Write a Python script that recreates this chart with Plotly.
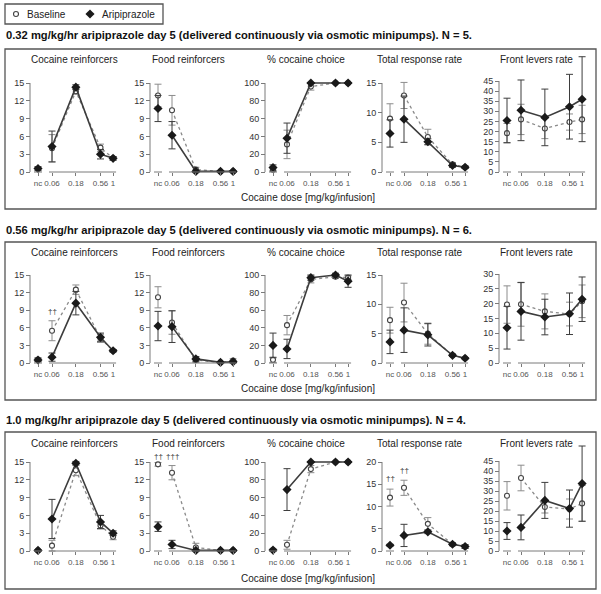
import math
import plotly.graph_objects as go

W, H = 601, 594
FONT = "Liberation Sans, Arial, Helvetica, sans-serif"

def fx(px):
    return px / W

def fy(py):
    return 1 - py / H

# ---------------- data ----------------
DOSE_LABELS = ["nc", "0.06", "0.18", "0.56", "1"]
DOSE_VALUES = [0.06, 0.18, 0.56, 1.0]

PANEL_TITLES = ["Cocaine reinforcers", "Food reinforcers", "% cocaine choice",
                "Total response rate", "Front levers rate"]
ROW_HEADINGS = [
    "0.32 mg/kg/hr aripiprazole day 5 (delivered continuously via osmotic minipumps). N = 5.",
    "0.56 mg/kg/hr aripiprazole day 5 (delivered continuously via osmotic minipumps). N = 6.",
    "1.0 mg/kg/hr aripiprazole day 5 (delivered continuously via osmotic minipumps). N = 4.",
]
X_LABEL = "Cocaine dose [mg/kg/infusion]"
SERIES = ["Baseline", "Aripiprazole"]

Y_TOPS = [[15, 15, 100, 15, 45], [15, 15, 100, 15, 30], [15, 15, 100, 20, 45]]
Y_STEPS = [[3, 3, 20, 5, 5], [3, 3, 20, 5, 5], [3, 3, 20, 5, 5]]

# Row 1: 0.32 mg/kg/hr  (values for nc, 0.06, 0.18, 0.56, 1)
R1_COC_BL = [0.5, 4.0, 13.6, 4.1, 2.3];    R1_COC_BL_E = [0.3, 2.3, 0.5, 0.6, 0.3]
R1_COC_AR = [0.6, 4.3, 14.3, 3.0, 2.3];    R1_COC_AR_E = [0.3, 2.6, 0.4, 0.8, 0.3]
R1_FOOD_BL = [12.9, 10.4, 0.4, 0.1, 0.1];  R1_FOOD_BL_E = [1.9, 2.5, 0.4, 0.1, 0.1]
R1_FOOD_AR = [10.7, 6.2, 0.1, 0.1, 0.1];   R1_FOOD_AR_E = [2.2, 2.3, 0.2, 0.1, 0.1]
R1_PCT_BL = [2.5, 31, 96, 100, 100];       R1_PCT_BL_E = [2, 16, 4, 0, 0]
R1_PCT_AR = [5, 38, 100, 100, 100];        R1_PCT_AR_E = [3, 17, 0, 0, 0]
R1_TOT_BL = [9.0, 12.9, 5.9, 1.3, 0.8];    R1_TOT_BL_E = [2.5, 2.2, 1.3, 0.3, 0.2]
R1_TOT_AR = [6.5, 8.9, 5.1, 1.1, 0.8];     R1_TOT_AR_E = [2.3, 3.9, 0.5, 0.3, 0.2]
R1_FRONT_BL = [19.2, 26.0, 21.5, 24.7, 26.0]; R1_FRONT_BL_E = [4.8, 7.5, 5.0, 4.0, 7.0]
R1_FRONT_AR = [25.5, 30.5, 27.0, 32.3, 36.0]; R1_FRONT_AR_E = [11.0, 15.0, 14.0, 16.0, 21.0]

# Row 2: 0.56 mg/kg/hr
R2_COC_BL = [0.6, 5.5, 12.5, 4.2, 2.1];    R2_COC_BL_E = [0.3, 1.7, 0.8, 0.7, 0.2]
R2_COC_AR = [0.5, 1.0, 10.2, 4.4, 2.1];    R2_COC_AR_E = [0.3, 0.7, 2.0, 0.7, 0.2]
R2_FOOD_BL = [11.2, 6.9, 0.5, 0.1, 0.4];   R2_FOOD_BL_E = [1.8, 2.0, 0.4, 0.1, 0.3]
R2_FOOD_AR = [6.3, 6.2, 0.7, 0.1, 0.2];    R2_FOOD_AR_E = [2.5, 2.7, 0.4, 0.1, 0.2]
R2_PCT_BL = [3.7, 43, 95, 98, 97];         R2_PCT_BL_E = [3, 11, 4, 2, 2]
R2_PCT_AR = [20, 16, 97, 100, 93];         R2_PCT_AR_E = [14, 11, 3, 2, 7]
R2_TOT_BL = [7.3, 10.3, 5.0, 1.3, 0.8];    R2_TOT_BL_E = [2.2, 3.3, 1.8, 0.2, 0.1]
R2_TOT_AR = [3.6, 5.6, 4.8, 1.3, 0.8];     R2_TOT_AR_E = [2.0, 3.8, 1.9, 0.2, 0.1]
R2_FRONT_BL = [19.7, 19.8, 17.4, 16.5, 20.8]; R2_FRONT_BL_E = [6.3, 7.4, 5.9, 4.0, 5.5]
R2_FRONT_AR = [11.9, 17.4, 15.5, 16.6, 21.5]; R2_FRONT_AR_E = [7.2, 9.7, 6.0, 7.0, 7.5]

# Row 3: 1.0 mg/kg/hr
R3_COC_BL = [0.1, 0.9, 13.6, 4.3, 2.4];    R3_COC_BL_E = [0.1, 0.9, 0.9, 0.6, 0.5]
R3_COC_AR = [0.1, 5.4, 14.8, 4.9, 3.0];    R3_COC_AR_E = [0.1, 3.3, 0.3, 1.1, 0.4]
R3_FOOD_BL = [14.6, 13.2, 0.6, 0.1, 0.1];  R3_FOOD_BL_E = [0.3, 1.2, 0.7, 0.1, 0.1]
R3_FOOD_AR = [4.1, 1.1, 0.1, 0.1, 0.1];    R3_FOOD_AR_E = [0.8, 0.7, 0.1, 0.1, 0.1]
R3_PCT_BL = [1, 7, 92, 100, 100];          R3_PCT_BL_E = [1, 5, 4, 0, 0]
R3_PCT_AR = [1, 69, 100, 100, 100];        R3_PCT_AR_E = [1, 23.5, 0, 0, 0]
R3_TOT_BL = [12.0, 14.2, 6.1, 1.5, 1.0];   R3_TOT_BL_E = [1.9, 1.7, 1.4, 0.3, 0.4]
R3_TOT_AR = [1.3, 3.5, 4.3, 1.5, 1.0];     R3_TOT_AR_E = [0.2, 2.5, 0.4, 0.3, 0.4]
R3_FRONT_BL = [27.6, 36.5, 22.0, 21.0, 23.8]; R3_FRONT_BL_E = [7.1, 6.4, 3.0, 5.0, 9.0]
R3_FRONT_AR = [10.0, 11.8, 25.3, 21.2, 33.7]; R3_FRONT_AR_E = [4.2, 6.2, 9.0, 9.3, 18.8]

# significance marks: (row, panel, dose index, y value, text)
SIG_MARKS = [
    (1, 0, 1, 8.8, "††"),
    (2, 1, 0, 16.0, "††"),
    (2, 1, 1, 16.0, "†††"),
    (2, 3, 0, 16.3, "††"),
    (2, 3, 1, 18.1, "††"),
]

BL = [
    [R1_COC_BL, R1_FOOD_BL, R1_PCT_BL, R1_TOT_BL, R1_FRONT_BL],
    [R2_COC_BL, R2_FOOD_BL, R2_PCT_BL, R2_TOT_BL, R2_FRONT_BL],
    [R3_COC_BL, R3_FOOD_BL, R3_PCT_BL, R3_TOT_BL, R3_FRONT_BL],
]
BL_E = [
    [R1_COC_BL_E, R1_FOOD_BL_E, R1_PCT_BL_E, R1_TOT_BL_E, R1_FRONT_BL_E],
    [R2_COC_BL_E, R2_FOOD_BL_E, R2_PCT_BL_E, R2_TOT_BL_E, R2_FRONT_BL_E],
    [R3_COC_BL_E, R3_FOOD_BL_E, R3_PCT_BL_E, R3_TOT_BL_E, R3_FRONT_BL_E],
]
AR = [
    [R1_COC_AR, R1_FOOD_AR, R1_PCT_AR, R1_TOT_AR, R1_FRONT_AR],
    [R2_COC_AR, R2_FOOD_AR, R2_PCT_AR, R2_TOT_AR, R2_FRONT_AR],
    [R3_COC_AR, R3_FOOD_AR, R3_PCT_AR, R3_TOT_AR, R3_FRONT_AR],
]
AR_E = [
    [R1_COC_AR_E, R1_FOOD_AR_E, R1_PCT_AR_E, R1_TOT_AR_E, R1_FRONT_AR_E],
    [R2_COC_AR_E, R2_FOOD_AR_E, R2_PCT_AR_E, R2_TOT_AR_E, R2_FRONT_AR_E],
    [R3_COC_AR_E, R3_FOOD_AR_E, R3_PCT_AR_E, R3_TOT_AR_E, R3_FRONT_AR_E],
]

# ---------------- layout geometry (pixels) ----------------
PX_PER_DECADE = 50.0
U06 = math.log10(0.06)
U_NC = U06 - 14 / PX_PER_DECADE
U_LEFT = U06 - 22 / PX_PER_DECADE
XPOS = [U_NC] + [math.log10(d) for d in DOSE_VALUES]
PANEL_W = 92

COL_AXIS_PX = [30, 150, 265, 382, 499]
COL_TITLE_PX = [74, 188, 306, 419, 536]
ROW_Y0_PX = [172, 363, 551]
ROW_YTOP_PX = [[83, 83, 83, 83, 81], [275, 275, 275, 275, 274], [462, 462, 462, 462, 461]]
ROW_TITLE_PX = [60, 252, 443]
ROW_HEAD_PX = [35, 230, 420]
ROW_XLABEL_PX = [197, 388, 578]
ROW_BOX_PX = [(49, 209), (242, 400), (432, 589)]

BL_LINE = "#8a8a8a"
AR_LINE = "#3d3d3d"
AXIS_COL = "#7a7a7a"

fig = go.Figure()
shapes = []
annotations = []
layout_axes = {}

def ax_id(k):
    return "" if k == 1 else str(k)

k = 0
for r in range(3):
    y0 = ROW_Y0_PX[r]
    for c in range(5):
        k += 1
        sid = ax_id(k)
        A = COL_AXIS_PX[c]
        ytop = ROW_YTOP_PX[r][c]
        top = Y_TOPS[r][c]
        step = Y_STEPS[r][c]
        s = (y0 - ytop) / top  # px per unit
        below, above = 8, 34
        layout_axes["xaxis" + sid] = dict(
            domain=[fx(A), fx(A + PANEL_W)],
            range=[U_LEFT, U_LEFT + PANEL_W / PX_PER_DECADE],
            anchor="free", position=fy(y0),
            tickmode="array", tickvals=XPOS, ticktext=DOSE_LABELS, tickangle=0,
            ticks="outside", ticklen=3, tickwidth=1, tickcolor=AXIS_COL,
            tickfont=dict(size=8, color="#555555", family=FONT),
            showgrid=False, zeroline=False, showline=False, fixedrange=True,
        )
        layout_axes["yaxis" + sid] = dict(
            domain=[fy(y0 + below), fy(ytop - above)],
            range=[-below / s, top + above / s],
            anchor="free", position=fx(A),
            tickmode="array", tickvals=list(range(0, top + 1, step)),
            ticks="outside", ticklen=4, tickwidth=1, tickcolor=AXIS_COL,
            tickfont=dict(size=9, color="#333333", family=FONT),
            showgrid=False, zeroline=False, showline=False, fixedrange=True,
        )
        xr = "x" + sid
        yr = "y" + sid
        # broken x axis line
        shapes.append(dict(type="line", xref=xr, yref="paper",
                           x0=U_NC - 4 / PX_PER_DECADE, x1=U_NC + 4 / PX_PER_DECADE,
                           y0=fy(y0), y1=fy(y0), line=dict(color=AXIS_COL, width=1)))
        shapes.append(dict(type="line", xref=xr, yref="paper",
                           x0=XPOS[1] - 3 / PX_PER_DECADE, x1=XPOS[-1] + 3 / PX_PER_DECADE,
                           y0=fy(y0), y1=fy(y0), line=dict(color=AXIS_COL, width=1)))
        # y axis line from 0 to top tick
        shapes.append(dict(type="line", xref="paper", yref=yr,
                           x0=fx(A), x1=fx(A), y0=0, y1=top,
                           line=dict(color=AXIS_COL, width=1)))

        series = [
            (BL[r][c], BL_E[r][c], dict(color=BL_LINE, width=1.3, dash="dot"),
             dict(symbol="circle", size=5, color="white", line=dict(color="#444444", width=1.1)),
             "#8c8c8c"),
            (AR[r][c], AR_E[r][c], dict(color=AR_LINE, width=1.6),
             dict(symbol="diamond", size=7, color="#1a1a1a", line=dict(color="#1a1a1a", width=0)),
             "#3d3d3d"),
        ]
        for vals, errs, line, marker, ecol in series:
            for xs, ys, es, mode in [
                (XPOS[:1], vals[:1], errs[:1], "markers"),
                (XPOS[1:], vals[1:], errs[1:], "lines+markers"),
            ]:
                fig.add_trace(go.Scatter(
                    x=xs, y=ys, mode=mode, xaxis=xr, yaxis=yr,
                    line=line, marker=marker, cliponaxis=False, showlegend=False,
                    error_y=dict(type="data", array=es, visible=True,
                                 thickness=1, width=3.5, color=ecol),
                    hoverinfo="skip",
                ))
        # panel title
        annotations.append(dict(text=PANEL_TITLES[c], xref="paper", yref="paper",
                                x=fx(COL_TITLE_PX[c]), y=fy(ROW_TITLE_PX[r]),
                                xanchor="center", yanchor="middle", showarrow=False,
                                font=dict(size=10, color="#222222", family=FONT)))

    # row heading, box, x label
    annotations.append(dict(text="<b>" + ROW_HEADINGS[r] + "</b>", xref="paper", yref="paper",
                            x=fx(4), y=fy(ROW_HEAD_PX[r]), xanchor="left", yanchor="middle",
                            showarrow=False, font=dict(size=11.2, color="#111111", family=FONT)))
    annotations.append(dict(text=X_LABEL, xref="paper", yref="paper",
                            x=fx(308), y=fy(ROW_XLABEL_PX[r]), xanchor="center", yanchor="middle",
                            showarrow=False, font=dict(size=10, color="#222222", family=FONT)))
    bt, bb = ROW_BOX_PX[r]
    shapes.append(dict(type="rect", xref="paper", yref="paper",
                       x0=fx(5), x1=fx(596), y0=fy(bb), y1=fy(bt),
                       line=dict(color="#555555", width=1.3)))

# significance daggers
for (r, c, di, yv, txt) in SIG_MARKS:
    kk = r * 5 + c + 1
    sid = ax_id(kk)
    annotations.append(dict(text=txt, xref="x" + sid, yref="y" + sid, x=XPOS[di], y=yv,
                            xanchor="center", yanchor="middle", showarrow=False,
                            font=dict(size=8, color="#333333", family=FONT)))

# legend (manual): overlay axis in pixel units
layout_axes["xaxis16"] = dict(domain=[0, 1], range=[0, W], visible=False, anchor="y16", fixedrange=True)
layout_axes["yaxis16"] = dict(domain=[0, 1], range=[H, 0], visible=False, anchor="x16", fixedrange=True)
LEGEND_KEY_X = [16, 90]
LEGEND_TEXT_X = [25, 100]
LEGEND_Y = 14
fig.add_trace(go.Scatter(x=[LEGEND_KEY_X[0]], y=[LEGEND_Y], xaxis="x16", yaxis="y16", mode="markers",
                         marker=dict(symbol="circle", size=5, color="white", line=dict(color="#444444", width=1.1)),
                         showlegend=False, hoverinfo="skip", cliponaxis=False))
fig.add_trace(go.Scatter(x=[LEGEND_KEY_X[1]], y=[LEGEND_Y], xaxis="x16", yaxis="y16", mode="markers",
                         marker=dict(symbol="diamond", size=7, color="#1a1a1a"),
                         showlegend=False, hoverinfo="skip", cliponaxis=False))
for name, tx in zip(SERIES, LEGEND_TEXT_X):
    annotations.append(dict(text=name, xref="paper", yref="paper", x=fx(tx), y=fy(LEGEND_Y),
                            xanchor="left", yanchor="middle", showarrow=False,
                            font=dict(size=10, color="#222222", family=FONT)))
shapes.append(dict(type="rect", xref="paper", yref="paper", x0=fx(5), x1=fx(163),
                   y0=fy(24), y1=fy(4), line=dict(color="#555555", width=1.3)))

fig.update_layout(
    width=W, height=H, margin=dict(l=0, r=0, t=0, b=0),
    paper_bgcolor="white", plot_bgcolor="rgba(0,0,0,0)",
    font=dict(family=FONT), showlegend=False,
    shapes=shapes, annotations=annotations,
    **layout_axes,
)
fig.write_html(
    "out.html",
    config={"displayModeBar": False, "staticPlot": True},
    post_script="document.body.style.margin='0';document.body.style.overflow='hidden';",
)
